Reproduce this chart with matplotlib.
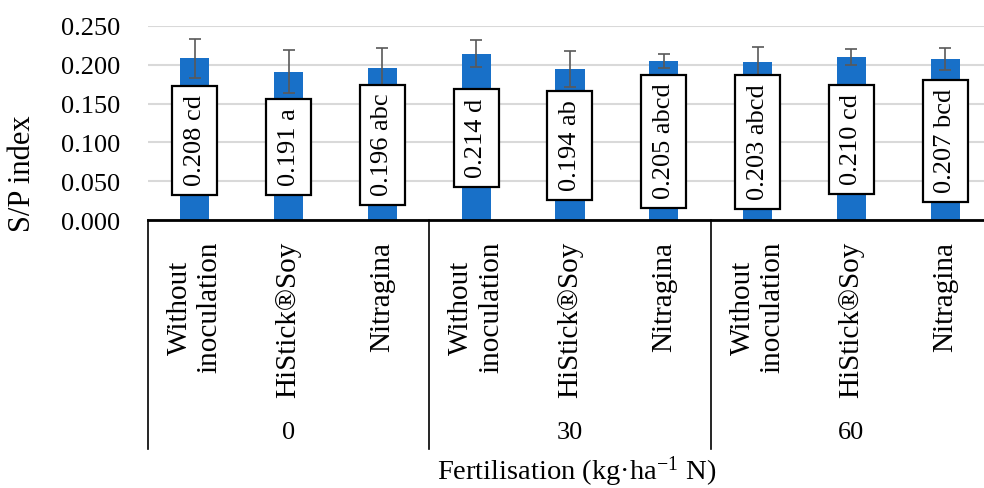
import matplotlib
matplotlib.use("Agg")
import matplotlib.pyplot as plt
import matplotlib.ticker as ticker
import matplotlib.transforms as mtransforms
from matplotlib.patches import Rectangle
import numpy as np

plt.rcParams.update({
    "font.family": ["Liberation Serif", "DejaVu Serif"],
    "mathtext.default": "regular",
    "font.size": 19,
})

# data
treatments = ["Without\ninoculation", "HiStick®Soy", "Nitragina"]
doses = ["0", "30", "60"]
sp_index = [0.208, 0.191, 0.196, 0.214, 0.194, 0.205, 0.203, 0.210, 0.207]
sp_err = [0.025, 0.028, 0.025, 0.017, 0.023, 0.009, 0.019, 0.010, 0.014]
letters = ["cd", "a", "abc", "d", "ab", "abcd", "abcd", "cd", "bcd"]
yticks = [0.000, 0.050, 0.100, 0.150, 0.200, 0.250]

BLUE = "#1870C8"
GREY = "#595959"

W, H = 984, 489
fig = plt.figure(figsize=(W / 100, H / 100), dpi=100)
ax = fig.add_axes([148 / W, 1 - 221.3 / H, (992 - 148) / W, 194.6 / H])

n = len(sp_index)
x = np.arange(n)
ax.bar(x, sp_index, width=0.31, color=BLUE, zorder=2)
ax.errorbar(x, sp_index, yerr=sp_err, fmt="none", ecolor=GREY, elinewidth=1.2,
            capsize=4.5, capthick=1.2, zorder=3)

ax.set_xlim(-0.5, n - 0.5)
ax.set_ylim(0, 0.25)
ax.set_yticks(yticks)
ax.yaxis.set_major_formatter(ticker.FormatStrFormatter("%.3f"))
ax.tick_params(axis="y", length=0, pad=20, labelsize=19)
ax.set_xticks([])
ax.yaxis.grid(True, color="#d9d9d9", lw=1.5, zorder=0)
ax.set_axisbelow(True)
for s in ["top", "right", "left"]:
    ax.spines[s].set_visible(False)
ax.spines["bottom"].set_linewidth(2.0)
ax.spines["bottom"].set_zorder(4)

# value labels in white boxes, centred on the bars
labels = []
for xi, v, lt in zip(x, sp_index, letters):
    t = ax.text(xi, v / 2, f"{v:.3f} {lt}", rotation=90, ha="center", va="center",
                rotation_mode="anchor", fontsize=19, zorder=6)
    labels.append(t)

fig.canvas.draw()
r = fig.canvas.get_renderer()
inv = ax.transData.inverted()
box_w = 45  # px
for t in labels:
    bb = t.get_window_extent(r)
    cx = (bb.x0 + bb.x1) / 2
    y0, y1 = bb.y0 - 10, bb.y1 - 2 + 10
    (dx0, dy0) = inv.transform((cx - box_w / 2, y0))
    (dx1, dy1) = inv.transform((cx + box_w / 2, y1))
    ax.add_patch(Rectangle((dx0, dy0), dx1 - dx0, dy1 - dy0, fc="white", ec="black",
                           lw=1.6, zorder=5))

# multi-level category axis
trans = mtransforms.blended_transform_factory(ax.transData, ax.transAxes)
bottom_y = (221.3 - 450) / 194.6
for b in [-0.5, 2.5, 5.5, 8.5]:
    ax.plot([b, b], [0, bottom_y], color="black", lw=1.2, transform=trans, clip_on=False)

for gi, d in enumerate(doses):
    for ti, tr in enumerate(treatments):
        xi = gi * len(treatments) + ti
        ax.text(xi, (221.3 - 242) / 194.6, tr, rotation=90, ha="center", va="top",
                multialignment="center", transform=trans, fontsize=21, linespacing=1.2)
    ax.text(gi * len(treatments) + 1, (221.3 - 433) / 194.6, d, ha="center", va="center",
            transform=trans, fontsize=19)

fig.text(577 / W, 1 - 472 / H, "Fertilisation (kg·ha$^{-1}$ N)", ha="center", va="center",
         fontsize=20.5)
fig.text(23 / W, 1 - 174 / H, "S/P index", rotation=90, ha="center", va="center", fontsize=22)

fig.savefig("out.png", dpi=100)
